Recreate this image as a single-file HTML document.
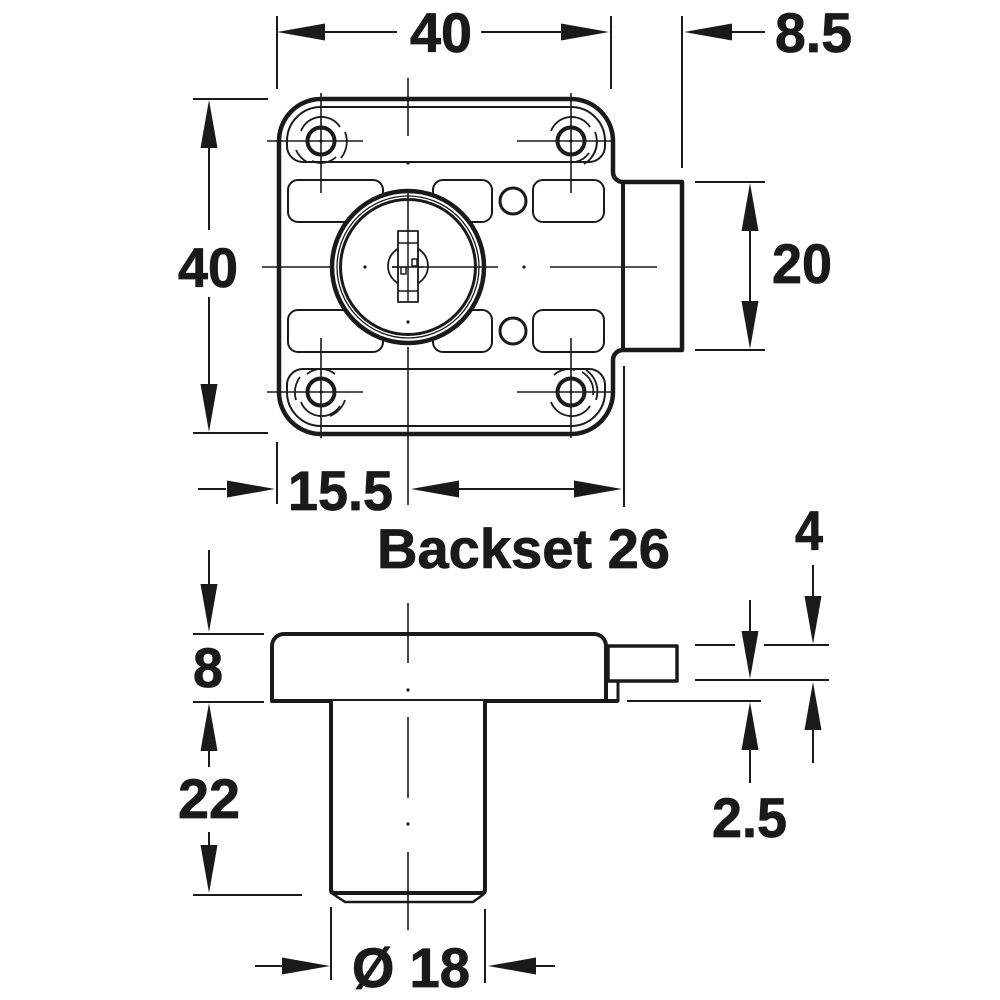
<!DOCTYPE html>
<html>
<head>
<meta charset="utf-8">
<style>
html,body{margin:0;padding:0;background:#fff;}
svg{display:block;}
text{font-family:"Liberation Sans",Arial,sans-serif;font-weight:bold;fill:#1a1a1a;stroke:#1a1a1a;stroke-width:0.8px;}
</style>
</head>
<body>
<svg width="1000" height="1000" viewBox="0 0 1000 1000" xmlns="http://www.w3.org/2000/svg">
<rect width="1000" height="1000" fill="#fff"/>

<!-- ============ TOP VIEW ============ -->
<g fill="none" stroke="#1a1a1a" stroke-linejoin="round" stroke-linecap="butt">
  <!-- plate outline -->
  <path d="M321,99 H571 A42,42 0 0 1 613,141 V172 A10,10 0 0 0 623,182 H682 V350 H623 A10,10 0 0 0 613,360 V392 A42,42 0 0 1 571,434 H321 A42,42 0 0 1 279,392 V141 A42,42 0 0 1 321,99 Z" stroke-width="4.5" fill="#fff"/>
  <line x1="623" y1="182" x2="623" y2="350" stroke-width="4"/>

  <!-- inner tracks -->
  <path d="M303,162 H589 A16,16 0 0 0 605,146 V141 A34,34 0 0 0 571,107 H321 A34,34 0 0 0 287,141 V146 A16,16 0 0 0 303,162 Z" stroke-width="2"/>
  <path d="M303,369 H589 A16,16 0 0 1 605,385 V392 A34,34 0 0 1 571,426 H321 A34,34 0 0 1 287,392 V385 A16,16 0 0 1 303,369 Z" stroke-width="2"/>

  <!-- slots -->
  <rect x="288" y="180" width="95" height="42" rx="10" stroke-width="2" fill="#fff"/>
  <rect x="433" y="180" width="59" height="42" rx="10" stroke-width="2" fill="#fff"/>
  <rect x="533" y="180" width="71" height="42" rx="10" stroke-width="2" fill="#fff"/>
  <rect x="288" y="310" width="95" height="42" rx="10" stroke-width="2" fill="#fff"/>
  <rect x="433" y="310" width="59" height="42" rx="10" stroke-width="2" fill="#fff"/>
  <rect x="533" y="310" width="71" height="42" rx="10" stroke-width="2" fill="#fff"/>

  <!-- small circles -->
  <circle cx="513" cy="201" r="13" stroke-width="3"/>
  <circle cx="513" cy="331" r="13" stroke-width="3"/>

  <!-- screw holes with rings -->
  <g stroke-width="1.8">
    <!-- TL -->
    <path d="M301,131 A22,22 0 0 1 340,127"/>
    <path d="M345,132 A26,26 0 0 1 341,158"/>
    <path d="M296,150 A26,26 0 0 0 307,162"/>
    <path d="M312,161 A22,22 0 0 0 336,157"/>
    <!-- TR -->
    <path d="M551,131 A22,22 0 0 1 590,127"/>
    <path d="M595,132 A26,26 0 0 1 591,158"/>
    <path d="M589,153 A22,22 0 0 1 575,162"/>
    <path d="M597,142 A26,26 0 0 1 584,164"/>
    <!-- BL -->
    <path d="M301,402 A22,22 0 0 0 340,406"/>
    <path d="M296,400 A26,26 0 0 1 300,377"/>
    <path d="M307,374 A22,22 0 0 1 335,374"/>
    <path d="M345,400 A26,26 0 0 1 330,416"/>
    <!-- BR -->
    <path d="M551,402 A22,22 0 0 0 590,406"/>
    <path d="M582,372 A22,22 0 0 1 593,395"/>
    <path d="M586,370 A26,26 0 0 1 596,400"/>
    <path d="M554,375 A22,22 0 0 1 575,370"/>
  </g>
  <g stroke-width="4" fill="#fff">
    <circle cx="321" cy="141" r="13.5"/>
    <circle cx="571" cy="141" r="13.5"/>
    <circle cx="321" cy="392" r="13.5"/>
    <circle cx="571" cy="392" r="13.5"/>
  </g>
  <!-- hole crosshairs -->
  <g stroke-width="1.6">
    <line x1="267" y1="141" x2="363" y2="141"/><line x1="321" y1="93" x2="321" y2="193"/>
    <line x1="517" y1="141" x2="611" y2="141"/><line x1="571" y1="93" x2="571" y2="193"/>
    <line x1="267" y1="392" x2="363" y2="392"/><line x1="321" y1="338" x2="321" y2="438"/>
    <line x1="517" y1="392" x2="611" y2="392"/><line x1="571" y1="338" x2="571" y2="438"/>
  </g>
  <g fill="#1a1a1a" stroke="none">
    <circle cx="321" cy="141" r="1.6"/><circle cx="571" cy="141" r="1.6"/>
    <circle cx="321" cy="392" r="1.6"/><circle cx="571" cy="392" r="1.6"/>
  </g>

  <!-- cylinder -->
  <circle cx="408" cy="267" r="76" stroke-width="4.5" fill="#fff"/>
  <circle cx="408" cy="267" r="71" stroke-width="1.3"/>
  <circle cx="408" cy="267" r="67.5" stroke-width="3"/>

  <!-- centre lines top view -->
  <g stroke-width="1.6">
    <line x1="262" y1="267" x2="331" y2="267"/>
    <line x1="392" y1="267" x2="498" y2="267"/>
    <line x1="550" y1="267" x2="657" y2="267"/>
    <line x1="408" y1="78" x2="408" y2="136"/>
    <line x1="408" y1="190" x2="408" y2="302"/>
    <line x1="408" y1="347" x2="408" y2="505"/>
  </g>
  <g fill="#1a1a1a" stroke="none">
    <circle cx="365" cy="267" r="1.6"/>
    <circle cx="524" cy="267" r="1.6"/>
    <circle cx="408" cy="163" r="1.6"/>
    <circle cx="408" cy="322" r="1.6"/>
  </g>

  <!-- keyhole -->
  <circle cx="408" cy="266" r="20" stroke-width="1.8"/>
  <rect x="398" y="231" width="20" height="71" stroke-width="1.8" fill="#fff"/>
  <g stroke-width="1.5">
    <line x1="408" y1="231" x2="408" y2="302"/>
    <line x1="398" y1="243" x2="418" y2="243"/>
    <line x1="398" y1="291" x2="418" y2="291"/>
    <line x1="392" y1="267" x2="424" y2="267"/>
    <rect x="401" y="267" width="5" height="7"/>
    <rect x="412" y="259" width="5" height="7"/>
  </g>

  <!-- extension lines top view -->
  <g stroke-width="2">
    <line x1="277" y1="16" x2="277" y2="89"/>
    <line x1="611" y1="16" x2="611" y2="89"/>
    <line x1="682" y1="16" x2="682" y2="168"/>
    <line x1="193" y1="99" x2="268" y2="99"/>
    <line x1="193" y1="433" x2="268" y2="433"/>
    <line x1="695" y1="182" x2="765" y2="182"/>
    <line x1="695" y1="350" x2="765" y2="350"/>
    <line x1="277" y1="442" x2="277" y2="504"/>
    <line x1="624" y1="366" x2="624" y2="507"/>
  </g>

  <!-- dimension lines top view -->
  <g stroke-width="2">
    <line x1="325" y1="32" x2="397" y2="32"/>
    <line x1="481" y1="32" x2="561" y2="32"/>
    <line x1="731" y1="32" x2="765" y2="32"/>
    <line x1="209" y1="148" x2="209" y2="230"/>
    <line x1="209" y1="297" x2="209" y2="384"/>
    <line x1="750" y1="231" x2="750" y2="301"/>
    <line x1="198" y1="489" x2="226" y2="489"/>
    <line x1="459" y1="489" x2="574" y2="489"/>
  </g>
</g>

<g fill="#1a1a1a" stroke="none">
  <polygon points="277,32 325,23.5 325,40.5"/>
  <polygon points="609,32 561,23.5 561,40.5"/>
  <polygon points="684,32 732,23.5 732,40.5"/>
  <polygon points="209,100 200.5,148 217.5,148"/>
  <polygon points="209,432 200.5,384 217.5,384"/>
  <polygon points="750,183 741.5,231 758.5,231"/>
  <polygon points="750,349 741.5,301 758.5,301"/>
  <polygon points="275,489 227,480.5 227,497.5"/>
  <polygon points="411,489 459,480.5 459,497.5"/>
  <polygon points="622,489 574,480.5 574,497.5"/>
</g>

<!-- ============ SIDE VIEW ============ -->
<g fill="none" stroke="#1a1a1a" stroke-linejoin="round">
  <path d="M284,634 H594 A12,12 0 0 1 606,646 V701 H272 V646 A12,12 0 0 1 284,634 Z" stroke-width="4" fill="#fff"/>
  <rect x="608" y="646" width="69" height="35" stroke-width="3.5"/>
  <rect x="606" y="681" width="12" height="20" stroke-width="3"/>
  <line x1="272" y1="701" x2="618" y2="701" stroke-width="4"/>
  <path d="M331,701 V890 Q331,893 334,893 H482 Q485,893 485,890 V701" stroke-width="4" fill="#fff"/>
  <path d="M333,894 L345,902 H473 L484,894" stroke-width="2.5"/>

  <g stroke-width="1.6">
    <line x1="408" y1="603" x2="408" y2="663"/>
    <line x1="408" y1="717" x2="408" y2="798"/>
    <line x1="408" y1="852" x2="408" y2="930"/>
  </g>

  <g stroke-width="2">
    <!-- left ext -->
    <line x1="193" y1="634" x2="264" y2="634"/>
    <line x1="193" y1="702" x2="264" y2="702"/>
    <line x1="193" y1="895" x2="302" y2="895"/>
    <!-- right ext -->
    <line x1="695" y1="645" x2="735" y2="645"/>
    <line x1="764" y1="645" x2="829" y2="645"/>
    <line x1="695" y1="680" x2="829" y2="680"/>
    <line x1="627" y1="701" x2="761" y2="701"/>
    <!-- bottom ext -->
    <line x1="331" y1="907" x2="331" y2="980"/>
    <line x1="485" y1="909" x2="485" y2="983"/>
    <!-- dim lines -->
    <line x1="209" y1="550" x2="209" y2="584"/>
    <line x1="209" y1="751" x2="209" y2="767"/>
    <line x1="209" y1="832" x2="209" y2="845"/>
    <line x1="813" y1="565" x2="813" y2="596"/>
    <line x1="813" y1="730" x2="813" y2="763"/>
    <line x1="750" y1="600" x2="750" y2="631"/>
    <line x1="750" y1="750" x2="750" y2="783"/>
    <line x1="255" y1="966" x2="282" y2="966"/>
    <line x1="536" y1="966" x2="555" y2="966"/>
  </g>
</g>
<g fill="#1a1a1a" stroke="none">
  <circle cx="408" cy="690" r="1.6"/>
  <circle cx="408" cy="824" r="1.6"/>
  <polygon points="209,632 200.5,584 217.5,584"/>
  <polygon points="209,703 200.5,751 217.5,751"/>
  <polygon points="209,893 200.5,845 217.5,845"/>
  <polygon points="813,644 804.5,596 821.5,596"/>
  <polygon points="813,682 804.5,730 821.5,730"/>
  <polygon points="750,679 741.5,631 758.5,631"/>
  <polygon points="750,702 741.5,750 758.5,750"/>
  <polygon points="330,966 282,957.5 282,974.5"/>
  <polygon points="488,966 536,957.5 536,974.5"/>
</g>

<!-- ============ TEXT ============ -->
<g font-size="56">
  <text x="410" y="52" textLength="62" lengthAdjust="spacingAndGlyphs">40</text>
  <text x="775" y="52" textLength="77" lengthAdjust="spacingAndGlyphs">8.5</text>
  <text x="178" y="287" textLength="60" lengthAdjust="spacingAndGlyphs">40</text>
  <text x="772" y="283" textLength="60" lengthAdjust="spacingAndGlyphs">20</text>
  <text x="288" y="510" textLength="105" lengthAdjust="spacingAndGlyphs">15.5</text>
  <text x="377" y="568" textLength="293" lengthAdjust="spacingAndGlyphs">Backset 26</text>
  <text x="795" y="550" textLength="28" lengthAdjust="spacingAndGlyphs">4</text>
  <text x="193" y="687" textLength="30" lengthAdjust="spacingAndGlyphs">8</text>
  <text x="178" y="818" textLength="62" lengthAdjust="spacingAndGlyphs">22</text>
  <text x="712" y="837" textLength="75" lengthAdjust="spacingAndGlyphs">2.5</text>
  <text x="352" y="987" textLength="118" lengthAdjust="spacingAndGlyphs">Ø 18</text>
</g>
</svg>
</body>
</html>
